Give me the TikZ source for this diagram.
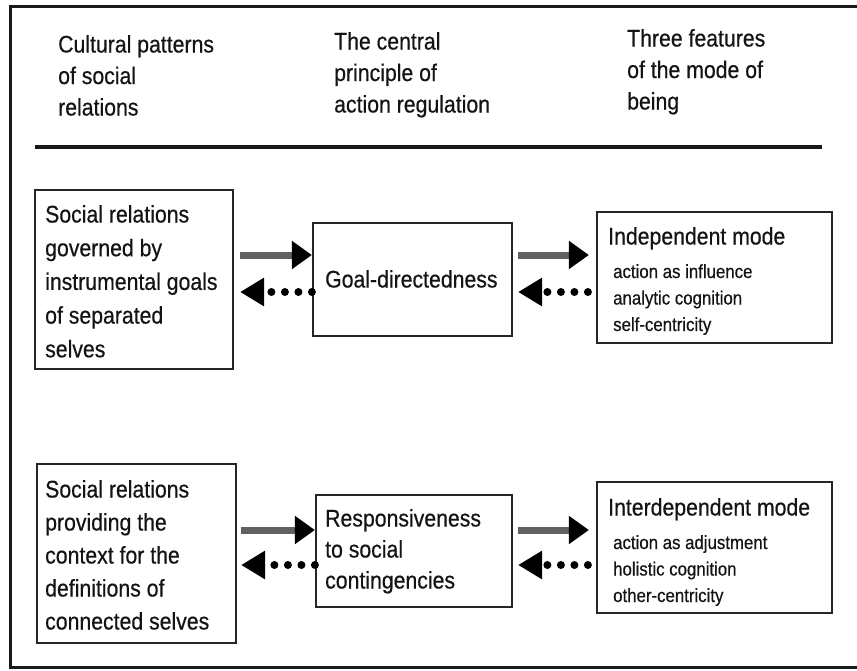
\documentclass[tikz,border=0pt]{standalone}
\usepackage{fontspec}
\setmainfont{Liberation Sans}[FakeStretch=0.885,FakeBold=0.5]
\usetikzlibrary{arrows.meta,calc}

% left-aligned block whose baseline is its first line
\newcommand\lineblock[1]{\parbox[t]{260pt}{\raggedright #1}}

\begin{document}
\begin{tikzpicture}[x=1pt,y=-1pt,
  frame/.style={line width=3pt, draw=black!90},
  box/.style={draw=black!85, line width=2.2pt, inner sep=0, fill=white},
  txt/.style={anchor=base west, inner sep=0, text=black!92},
  big/.style={font=\fontsize{24}{33.5}\selectfont},
  small/.style={font=\fontsize{19}{26.5}\selectfont},
  solidarr/.style={line width=7pt, draw=black!62,
    -{Triangle[length=20pt,width=27pt,color=black]}},
  dotarr/.style={line width=8pt, line cap=round, draw=black,
    dash pattern=on 0pt off 13.5pt,
    -{Triangle[length=24pt,width=27pt]}}
]
\useasboundingbox (0,0) rectangle (857,670);

% open frame (no right side)
\draw[frame] (857,6) -- (10,6) -- (10,667) -- (857,667);

% column headings
\node[txt, font=\fontsize{24}{31.5}\selectfont] (h1) at (58,52.5)
  {\lineblock{Cultural patterns\\of social\\relations}};
\node[txt, font=\fontsize{24}{31.5}\selectfont] (h2) at (334,49.5)
  {\lineblock{The central\\principle of\\action regulation}};
\node[txt, font=\fontsize{24}{31.5}\selectfont] (h3) at (627,46.5)
  {\lineblock{Three features\\of the mode of\\being}};
\coordinate (ruleL) at (35,147);
\coordinate (ruleR) at (822,147);
\draw[line width=4pt, black!90] (ruleL) -- (ruleR);

% ---- independent row ----
\node[box, minimum width=198pt, minimum height=179pt] (A1) at (134,279.5) {};
\node[box, minimum width=199pt, minimum height=113pt] (B1) at (412.5,279.5) {};
\node[box, minimum width=235pt, minimum height=131pt] (C1) at (714.5,277.5) {};

\node[txt, font=\fontsize{24}{33.7}\selectfont] (A1t) at (45,222.5)
  {\lineblock{Social relations\\governed by\\instrumental goals\\of separated\\selves}};
\node[txt, big] (B1t) at (325,287.5) {Goal-directedness};
\node[txt, big] (C1t) at (608,244.5) {Independent mode};
\node[txt, small] (C1i) at (613,278)
  {\lineblock{action as influence\\analytic cognition\\self-centricity}};

\coordinate (r1s) at (0,255);
\coordinate (r1d) at (0,292);
\draw[solidarr, shorten <=6pt] (A1.east |- r1s) -- (B1.west |- r1s);
\draw[dotarr, shorten >=6pt] (B1.west |- r1d) -- (A1.east |- r1d);
\draw[solidarr, shorten <=5pt, shorten >=7pt] (B1.east |- r1s) -- (C1.west |- r1s);
\draw[dotarr, shorten <=8pt, shorten >=5pt] (C1.west |- r1d) -- (B1.east |- r1d);

% ---- interdependent row ----
\node[box, minimum width=199pt, minimum height=179pt] (A2) at (136.5,553.5) {};
\node[box, minimum width=196pt, minimum height=112pt] (B2) at (414,551) {};
\node[box, minimum width=235pt, minimum height=131pt] (C2) at (714.5,547.5) {};

\node[txt, font=\fontsize{24}{33}\selectfont] (A2t) at (45,497.5)
  {\lineblock{Social relations\\providing the\\context for the\\definitions of\\connected selves}};
\node[txt, font=\fontsize{24}{31}\selectfont] (B2t) at (325,526.5)
  {\lineblock{Responsiveness\\to social\\contingencies}};
\node[txt, big] (C2t) at (608,515.5) {Interdependent mode};
\node[txt, small] (C2i) at (613,549)
  {\lineblock{action as adjustment\\holistic cognition\\other-centricity}};

\coordinate (r2s) at (0,530);
\coordinate (r2d) at (0,565);
\draw[solidarr, shorten <=4pt] (A2.east |- r2s) -- (B2.west |- r2s);
\draw[dotarr, shorten >=4pt] (B2.west |- r2d) -- (A2.east |- r2d);
\draw[solidarr, shorten <=5pt, shorten >=7pt] (B2.east |- r2s) -- (C2.west |- r2s);
\draw[dotarr, shorten <=8pt, shorten >=5pt] (C2.west |- r2d) -- (B2.east |- r2d);
\end{tikzpicture}
\end{document}
